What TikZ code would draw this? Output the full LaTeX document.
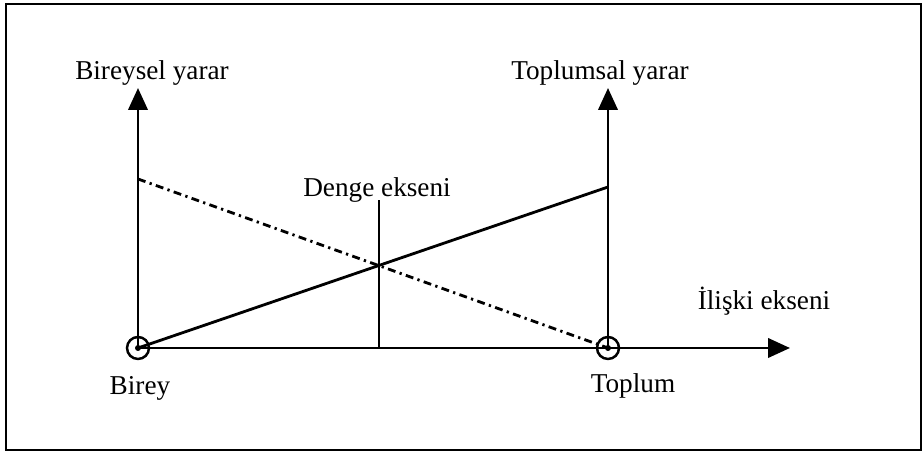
\documentclass[tikz,border=0pt]{standalone}
\usepackage{fontspec}
\setmainfont{Liberation Serif}
\usetikzlibrary{arrows.meta}
\tikzset{
  ln/.style={line width=1.6pt},
  axis/.style={ln,-{Triangle[length=12.5pt,width=11pt]}},
  dd/.style={ln,dash pattern=on 4.5pt off 2.5pt on 1.3pt off 2.5pt},
  pt/.style={circle,draw,line width=1.4pt,minimum size=0.44cm,inner sep=0pt},
  lbl/.style={font=\fontsize{15.5}{18}\selectfont,inner sep=0pt,anchor=base},
}

\begin{document}
\begin{tikzpicture}[x=0.02cm,y=-0.02cm]
    \useasboundingbox (0,0) rectangle (924,455);
    \draw[line width=1.4pt] (6,4) rectangle (921,450);

    \node[pt] at (138,348) (birey)  {};
    \node[pt] at (608,348) (toplum) {};
    \fill (birey.center)  circle (3);
    \fill (toplum.center) circle (3);
    \coordinate (xend) at (790,348);
    \coordinate (bend) at (138,88);
    \coordinate (tend) at (608,88);
    \coordinate (bdash) at (138,179);
    \coordinate (tsol) at (608,187);
    \coordinate (dtop) at (379,200);
    \coordinate (dbot) at (379,348);

    % eksenler
    \draw[axis] (birey.center) -- (xend);
    \draw[axis] (birey.center) -- (bend);
    \draw[axis] (toplum.center) -- (tend);

    % yarar dogrulari
    \draw[dd] (bdash) -- (toplum.center);
    \draw[ln] (birey.center) -- (tsol);
    \draw[ln] (dbot) -- (dtop);

    \node[lbl] at (152,80)  (by) {Bireysel yarar};
    \node[lbl] at (600,80)  (ty) {Toplumsal yarar};
    \node[lbl] at (377,197) (de) {Denge ekseni};
    \node[lbl] at (764,310) (ie) {İlişki ekseni};
    \node[lbl] at (140,395) (bl) {Birey};
    \node[lbl] at (633,393) (tl) {Toplum};
  \end{tikzpicture}
\end{document}
